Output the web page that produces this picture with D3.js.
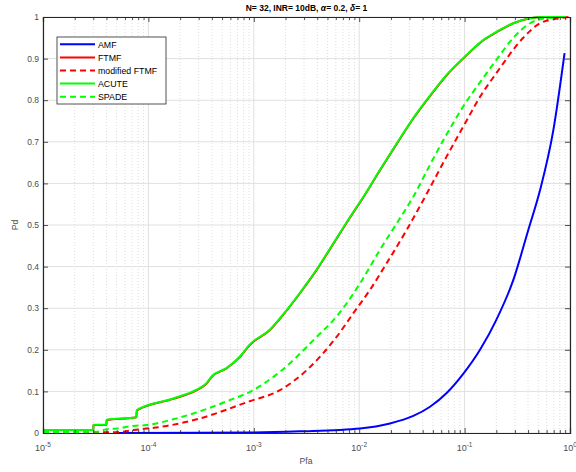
<!DOCTYPE html>
<html>
<head>
<meta charset="utf-8">
<script src="https://cdn.jsdelivr.net/npm/d3@7"></script>
<style>
  body { margin: 0; background: #fff; }
  text { font-family: "Liberation Sans", Arial, sans-serif; }
</style>
</head>
<body>
<svg id="chart" width="576" height="472"></svg>
<script>
// values (Pfa on log axis, Pd linear)
let pfaAMF = [5e-5, 9.2e-4, 2.74e-3, 0.0102, 0.0196, 0.0326, 0.047, 0.0676, 0.097, 0.14, 0.2, 0.29, 0.402, 0.52, 0.695, 0.888];
let pdAMF  = [0, 0.001, 0.004, 0.011, 0.023, 0.041, 0.063, 0.096, 0.142, 0.2, 0.272, 0.368, 0.488, 0.584, 0.728, 0.913];

let pfaFTMF = [1e-5, 3.0e-5, 3.01e-5, 4.0e-5, 4.01e-5, 7.7e-5, 7.75e-5, 1.72e-4, 2.87e-4, 3.57e-4, 3.99e-4, 5.5e-4, 7.4e-4, 9.2e-4, 1.43e-3, 1.9e-3, 2.74e-3, 3.95e-3, 5.28e-3, 7.07e-3, 9.5e-3, 0.0106, 0.0157, 0.0227, 0.0326, 0.047, 0.0676, 0.097, 0.151, 0.2, 0.29, 0.418, 0.58, 0.9];
let pdFTMF  = [0.007, 0.007, 0.019, 0.019, 0.031, 0.038, 0.054, 0.082, 0.103, 0.119, 0.135, 0.155, 0.183, 0.212, 0.248, 0.284, 0.336, 0.392, 0.442, 0.493, 0.543, 0.561, 0.631, 0.695, 0.756, 0.81, 0.86, 0.9, 0.944, 0.963, 0.985, 0.997, 1.0, 1.0];

let pfaModFTMF = [1e-5, 5.0e-5, 7.2e-5, 1.49e-4, 3.09e-4, 8.8e-4, 1.77e-3, 6.1e-3, 8.8e-3, 0.01265, 0.0182, 0.0282, 0.0437, 0.0676, 0.105, 0.14, 0.2, 0.36, 0.52, 0.8, 0.98];
let pdModFTMF  = [0.001, 0.002, 0.007, 0.017, 0.035, 0.075, 0.103, 0.231, 0.288, 0.344, 0.408, 0.488, 0.575, 0.665, 0.752, 0.808, 0.865, 0.95, 0.985, 0.997, 1.0];

let pfaACUTE = [1e-5, 3.0e-5, 3.01e-5, 4.0e-5, 4.01e-5, 7.7e-5, 7.75e-5, 1.72e-4, 2.87e-4, 3.57e-4, 3.99e-4, 5.5e-4, 7.4e-4, 9.2e-4, 1.43e-3, 1.9e-3, 2.74e-3, 3.95e-3, 5.28e-3, 7.07e-3, 9.5e-3, 0.0106, 0.0157, 0.0227, 0.0326, 0.047, 0.0676, 0.097, 0.151, 0.2, 0.29, 0.418, 0.58, 0.9];
let pdACUTE  = [0.007, 0.007, 0.02, 0.02, 0.032, 0.038, 0.055, 0.083, 0.104, 0.12, 0.136, 0.156, 0.184, 0.213, 0.249, 0.285, 0.337, 0.393, 0.443, 0.494, 0.544, 0.562, 0.632, 0.696, 0.757, 0.811, 0.861, 0.901, 0.945, 0.964, 0.985, 0.997, 1.0, 1.0];

let pfaSPADE = [1e-5, 3.23e-5, 4.0e-5, 5.0e-5, 7.2e-5, 9.6e-5, 1.72e-4, 3.32e-4, 5.9e-4, 9.2e-4, 1.77e-3, 3.95e-3, 6.1e-3, 0.0102, 0.0157, 0.0227, 0.0326, 0.047, 0.0676, 0.097, 0.14, 0.2, 0.29, 0.418, 0.6, 0.9];
let pdSPADE  = [0.002, 0.003, 0.009, 0.011, 0.017, 0.019, 0.033, 0.055, 0.079, 0.099, 0.147, 0.231, 0.28, 0.36, 0.44, 0.504, 0.568, 0.645, 0.718, 0.785, 0.843, 0.897, 0.95, 0.985, 0.997, 1.0];

let seriesNames = ["AMF", "FTMF", "modified FTMF", "ACUTE", "SPADE"];
let xTickValues = [1e-5, 1e-4, 1e-3, 1e-2, 1e-1, 1];
let xTickExps = ["-5", "-4", "-3", "-2", "-1", "0"];
let yTickValues = [0, 0.1, 0.2, 0.3, 0.4, 0.5, 0.6, 0.7, 0.8, 0.9, 1];

let series = [
  {name: seriesNames[0], x: pfaAMF, y: pdAMF, color: "#0000ff", dash: null},
  {name: seriesNames[1], x: pfaFTMF, y: pdFTMF, color: "#ff0000", dash: null},
  {name: seriesNames[2], x: pfaModFTMF, y: pdModFTMF, color: "#ff0000", dash: "6,4"},
  {name: seriesNames[3], x: pfaACUTE, y: pdACUTE, color: "#00ff00", dash: null},
  {name: seriesNames[4], x: pfaSPADE, y: pdSPADE, color: "#00ff00", dash: "6,4"}
];

let svg = d3.select("#chart");
let pLeft = 43, pRight = 570, pTop = 17, pBottom = 433;

let x = d3.scaleLog().domain([1e-5, 1]).range([pLeft, pRight]);
let y = d3.scaleLinear().domain([0, 1]).range([pBottom, pTop]);

// minor tick positions of the log axis
let minorX = [];
for (let e = -5; e < 0; e++) {
  for (let m = 2; m <= 9; m++) minorX.push(m * Math.pow(10, e));
}

// grid
let grid = svg.append("g");
grid.selectAll(".gx-minor").data(minorX).enter().append("line")
    .attr("x1", d => x(d)).attr("x2", d => x(d))
    .attr("y1", pTop).attr("y2", pBottom)
    .attr("stroke", "#c8c8c8").attr("stroke-width", 0.6)
    .attr("stroke-dasharray", "1,2");
grid.selectAll(".gx").data(xTickValues).enter().append("line")
    .attr("x1", d => x(d)).attr("x2", d => x(d))
    .attr("y1", pTop).attr("y2", pBottom)
    .attr("stroke", "#e0e0e0").attr("stroke-width", 1);
grid.selectAll(".gy").data(yTickValues).enter().append("line")
    .attr("x1", pLeft).attr("x2", pRight)
    .attr("y1", d => y(d)).attr("y2", d => y(d))
    .attr("stroke", "#e0e0e0").attr("stroke-width", 1);

// curves
let line = d3.line()
    .curve(d3.curveMonotoneX)
    .x(d => x(d[0]))
    .y(d => y(d[1]));

series.forEach(function(s) {
  let pts = s.x.map((v, i) => [v, s.y[i]]);
  svg.append("path")
      .datum(pts)
      .attr("fill", "none")
      .attr("stroke", s.color)
      .attr("stroke-width", 2)
      .attr("stroke-dasharray", s.dash)
      .attr("d", line);
});

// axes, ticks pointing inward
let axisColor = "#262626";
svg.append("g").attr("transform", "translate(0," + pBottom + ")")
    .call(d3.axisBottom(x).tickValues(xTickValues).tickSize(-5).tickFormat(""));
svg.append("g").attr("transform", "translate(0," + pBottom + ")")
    .call(d3.axisBottom(x).tickValues(minorX).tickSize(-3).tickFormat(""))
    .call(g => g.select(".domain").remove());
svg.append("g").attr("transform", "translate(0," + pTop + ")")
    .call(d3.axisTop(x).tickValues(xTickValues).tickSize(-5).tickFormat(""));
svg.append("g").attr("transform", "translate(0," + pTop + ")")
    .call(d3.axisTop(x).tickValues(minorX).tickSize(-3).tickFormat(""))
    .call(g => g.select(".domain").remove());
let yAxis = svg.append("g").attr("transform", "translate(" + pLeft + ",0)")
    .call(d3.axisLeft(y).tickValues(yTickValues).tickSize(-5).tickPadding(4)
      .tickFormat(d => d === 0 ? "0" : d === 1 ? "1" : d3.format(".1f")(d)));
svg.append("g").attr("transform", "translate(" + pRight + ",0)")
    .call(d3.axisRight(y).tickValues(yTickValues).tickSize(-5).tickFormat(""));

svg.selectAll(".domain").attr("stroke", axisColor).attr("stroke-width", 1.2);
svg.selectAll(".tick line").attr("stroke", axisColor).attr("stroke-width", 0.8);

yAxis.selectAll("text").attr("font-size", 8.5).attr("fill", "#4d4d4d")
    .attr("font-family", "Liberation Sans, Arial, sans-serif");

// x tick labels as 10 with superscript exponent
xTickValues.forEach(function(v, i) {
  let t = svg.append("text")
      .attr("x", x(v)).attr("y", pBottom + 18)
      .attr("text-anchor", "middle")
      .attr("font-size", 9).attr("fill", "#4d4d4d");
  t.append("tspan").text("10");
  t.append("tspan").attr("dy", -4).attr("font-size", 6.5).text(xTickExps[i]);
});

// axis labels
svg.append("text").attr("x", 306).attr("y", pBottom + 31)
    .attr("text-anchor", "middle").attr("font-size", 8.5).attr("fill", "#4d4d4d")
    .text("Pfa");
svg.append("text").attr("transform", "translate(18," + (pTop + pBottom) / 2 + ") rotate(-90)")
    .attr("text-anchor", "middle").attr("font-size", 8.5).attr("fill", "#4d4d4d")
    .text("Pd");

// title
let title = svg.append("text").attr("x", (pLeft + pRight) / 2).attr("y", 11)
    .attr("text-anchor", "middle").attr("font-size", 8.5).attr("font-weight", "bold")
    .attr("fill", "#000");
title.append("tspan").text("N= 32, INR= 10dB, ");
title.append("tspan").attr("font-style", "italic").text("α");
title.append("tspan").text("= 0.2, ");
title.append("tspan").attr("font-style", "italic").text("δ");
title.append("tspan").text("= 1");

// legend
let lg = svg.append("g").attr("transform", "translate(57,37)");
lg.append("rect").attr("width", 109).attr("height", 67)
    .attr("fill", "#fff").attr("stroke", "#262626").attr("stroke-width", 0.8);
series.forEach(function(s, i) {
  let yy = 7.3 + i * 13.1;
  lg.append("line").attr("x1", 3).attr("x2", 38).attr("y1", yy).attr("y2", yy)
      .attr("stroke", s.color).attr("stroke-width", 2)
      .attr("stroke-dasharray", s.dash);
  lg.append("text").attr("x", 41).attr("y", yy + 3.2).attr("font-size", 8.8)
      .attr("fill", "#000").text(s.name);
});
</script>
</body>
</html>
